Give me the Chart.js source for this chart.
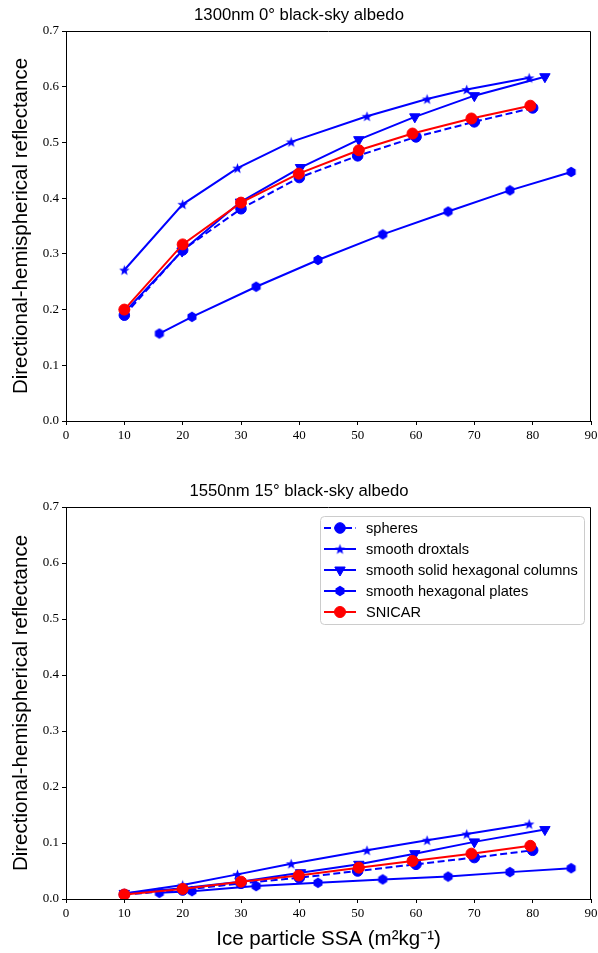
<!DOCTYPE html>
<html>
<head>
<meta charset="utf-8">
<script src="https://cdn.jsdelivr.net/npm/chart.js@4.4.0/dist/chart.umd.min.js"></script>
<style>
body { margin: 0; background: #fff; }
#wrap { position: relative; width: 598px; height: 953px; }
.box { position: absolute; left: 0; width: 598px; }
</style>
</head>
<body>
<div id="wrap">
  <div class="box" style="top:0;height:476px"><canvas id="chart-top"></canvas></div>
  <div class="box" style="top:476px;height:477px"><canvas id="chart-bottom"></canvas></div>
</div>
<script>
// series names (legend order)
var seriesNames = ['spheres', 'smooth droxtals', 'smooth solid hexagonal columns', 'smooth hexagonal plates', 'SNICAR'];

// x values (ice particle SSA) for each series
var spheresX  = [10, 20, 30, 40, 50, 60, 70, 80];
var droxtalsX = [10, 20, 29.4, 38.6, 51.6, 61.9, 68.7, 79.4];
var columnsX  = [10, 19.9, 29.9, 40.2, 50.2, 59.8, 70, 82.1];
var platesX   = [16, 21.6, 32.6, 43.2, 54.3, 65.5, 76.1, 86.6];
var snicarX   = [10, 20, 30, 39.9, 50.2, 59.4, 69.5, 79.6];

// 1300nm 0deg black-sky albedo
var spheres1300  = [0.190, 0.307, 0.381, 0.437, 0.476, 0.510, 0.537, 0.562];
var droxtals1300 = [0.271, 0.389, 0.454, 0.501, 0.547, 0.578, 0.595, 0.616];
var columns1300  = [0.195, 0.305, 0.393, 0.455, 0.505, 0.546, 0.584, 0.618];
var plates1300   = [0.157, 0.187, 0.241, 0.289, 0.335, 0.376, 0.414, 0.447];
var snicar1300   = [0.200, 0.317, 0.392, 0.444, 0.486, 0.516, 0.543, 0.566];

// 1550nm 15deg black-sky albedo
var spheres1550  = [0.008, 0.016, 0.028, 0.038, 0.050, 0.062, 0.074, 0.087];
var droxtals1550 = [0.010, 0.025, 0.044, 0.063, 0.087, 0.105, 0.116, 0.134];
var columns1550  = [0.010, 0.019, 0.031, 0.047, 0.062, 0.081, 0.102, 0.124];
var plates1550   = [0.011, 0.014, 0.023, 0.029, 0.035, 0.040, 0.048, 0.055];
var snicar1550   = [0.008, 0.018, 0.031, 0.042, 0.056, 0.068, 0.081, 0.095];

var titleTop = '1300nm 0\u00b0 black-sky albedo';
var titleBottom = '1550nm 15\u00b0 black-sky albedo';
var yLabel = 'Directional-hemispherical reflectance';
var xLabel = 'Ice particle SSA (m\u00b2kg\u207b\u00b9)';

var BLUE = '#0000ff';
var RED = '#ff0000';

function makeMarker(draw, size) {
    var c = document.createElement('canvas');
    c.width = size; c.height = size;
    var g = c.getContext('2d');
    g.fillStyle = BLUE;
    draw(g, size / 2);
    return c;
}
var starImg = makeMarker(function (g, m) {
    g.beginPath();
    for (var i = 0; i < 10; i++) {
        var r = i % 2 == 0 ? 5.5 : 2.3;
        var a = -Math.PI / 2 + i * Math.PI / 5;
        g.lineTo(m + r * Math.cos(a), m + 0.5 + r * Math.sin(a));
    }
    g.closePath();
    g.fill();
}, 13);
var hexImg = makeMarker(function (g, m) {
    g.beginPath();
    for (var i = 0; i < 6; i++) {
        var a = -Math.PI / 2 + i * Math.PI / 3;
        g.lineTo(m + 5.2 * Math.cos(a), m + 5.2 * Math.sin(a));
    }
    g.closePath();
    g.fill();
}, 12);

function toPoints(xs, ys) {
    return xs.map(function (x, i) { return { x: x, y: ys[i] }; });
}

function buildDatasets(sp, dr, co, pl, sn) {
    return [
        { label: seriesNames[0], data: toPoints(spheresX, sp), borderColor: BLUE, backgroundColor: BLUE,
          borderDash: [7, 3.5], pointStyle: 'circle', pointRadius: 5.3, order: 5 },
        { label: seriesNames[1], data: toPoints(droxtalsX, dr), borderColor: BLUE, backgroundColor: BLUE,
          pointStyle: starImg, order: 4 },
        { label: seriesNames[2], data: toPoints(columnsX, co), borderColor: BLUE, backgroundColor: BLUE,
          pointStyle: 'triangle', pointRotation: 180, pointRadius: 6, order: 3 },
        { label: seriesNames[3], data: toPoints(platesX, pl), borderColor: BLUE, backgroundColor: BLUE,
          pointStyle: hexImg, order: 2 },
        { label: seriesNames[4], data: toPoints(snicarX, sn), borderColor: RED, backgroundColor: RED,
          pointStyle: 'circle', pointRadius: 5.5, order: 1 }
    ];
}

// box around the plot area (top and right sides)
var framePlugin = {
    id: 'frame',
    afterDraw: function (chart) {
        var a = chart.chartArea, ctx = chart.ctx;
        ctx.save();
        ctx.strokeStyle = '#000';
        ctx.lineWidth = 1;
        ctx.beginPath();
        ctx.moveTo(Math.round(a.left) + 0.5, Math.round(a.top) + 0.5);
        ctx.lineTo(Math.round(a.right) - 0.5, Math.round(a.top) + 0.5);
        ctx.lineTo(Math.round(a.right) - 0.5, Math.round(a.bottom));
        ctx.stroke();
        ctx.restore();
    }
};

// legend box drawn inside the plot area
var boxLegend = {
    id: 'boxLegend',
    afterDraw: function (chart, args, opts) {
        if (!opts.show) return;
        var ctx = chart.ctx;
        ctx.save();
        var bx = 320.5, by = 40.5, bw = 264, bh = 108, r = 4;
        ctx.beginPath();
        ctx.moveTo(bx + r, by);
        ctx.arcTo(bx + bw, by, bx + bw, by + bh, r);
        ctx.arcTo(bx + bw, by + bh, bx, by + bh, r);
        ctx.arcTo(bx, by + bh, bx, by, r);
        ctx.arcTo(bx, by, bx + bw, by, r);
        ctx.closePath();
        ctx.fillStyle = 'rgba(255,255,255,0.8)';
        ctx.fill();
        ctx.strokeStyle = '#cccccc';
        ctx.lineWidth = 1;
        ctx.stroke();

        var dss = chart.data.datasets;
        for (var i = 0; i < dss.length; i++) {
            var ds = dss[i];
            var y = 52 + i * 21;
            ctx.strokeStyle = ds.borderColor;
            ctx.fillStyle = ds.backgroundColor;
            ctx.lineWidth = 2;
            ctx.setLineDash(ds.borderDash || []);
            ctx.beginPath();
            ctx.moveTo(324, y);
            ctx.lineTo(356, y);
            ctx.stroke();
            ctx.setLineDash([]);
            ctx.lineWidth = 1;
            Chart.helpers.drawPoint(ctx, {
                pointStyle: ds.pointStyle,
                radius: ds.pointRadius || 5,
                rotation: ds.pointRotation || 0,
                borderWidth: 1
            }, 340, y);
            ctx.fillStyle = '#000';
            ctx.font = '14.6px "Liberation Sans", Arial, sans-serif';
            ctx.textBaseline = 'middle';
            ctx.fillText(ds.label, 366, y + 1);
        }
        ctx.restore();
    }
};

function makeOptions(title, showXTitle, xHeight, showLegend) {
    return {
        responsive: true,
        maintainAspectRatio: false,
        animation: false,
        layout: { padding: { left: 0, right: 0, top: 0, bottom: 0 } },
        elements: {
            line: { borderWidth: 2, tension: 0, fill: false },
            point: { borderWidth: 1, hoverRadius: 5 }
        },
        plugins: {
            legend: { display: false },
            tooltip: { enabled: false },
            title: {
                display: true,
                text: title,
                color: '#000',
                font: { family: '"Liberation Sans", Arial, sans-serif', size: 16.7, weight: 'normal', lineHeight: 1.2 },
                padding: { top: 5, bottom: 6 }
            },
            boxLegend: { show: showLegend }
        },
        scales: {
            x: {
                type: 'linear',
                min: 0, max: 90,
                afterFit: function (s) {
                    s.height = xHeight;
                    s.paddingLeft = 0;
                    s.paddingRight = 7;
                },
                ticks: {
                    stepSize: 10, color: '#000', padding: 3, maxRotation: 0,
                    font: { family: '"Liberation Serif", "DejaVu Serif", serif', size: 13 }
                },
                grid: { drawOnChartArea: false, drawTicks: true, tickLength: 4, color: '#000' },
                border: { display: true, color: '#000', width: 1 },
                title: {
                    display: showXTitle,
                    text: xLabel,
                    color: '#000',
                    font: { family: '"Liberation Sans", Arial, sans-serif', size: 20.5, lineHeight: 1.2 },
                    padding: { top: 0, bottom: 1 }
                }
            },
            y: {
                type: 'linear',
                min: 0, max: 0.7,
                afterFit: function (s) { s.width = 66; },
                ticks: {
                    stepSize: 0.1, color: '#000', padding: 3,
                    font: { family: '"Liberation Serif", "DejaVu Serif", serif', size: 13 },
                    callback: function (v) { return Number(v).toFixed(1); }
                },
                grid: { drawOnChartArea: false, drawTicks: true, tickLength: 4, color: '#000' },
                border: { display: true, color: '#000', width: 1 },
                title: {
                    display: true,
                    text: yLabel,
                    color: '#000',
                    font: { family: '"Liberation Sans", Arial, sans-serif', size: 20.5, lineHeight: 1.2 },
                    padding: { top: 9, bottom: 0 }
                }
            }
        }
    };
}

var topChart = new Chart(document.getElementById('chart-top').getContext('2d'), {
    type: 'line',
    data: { datasets: buildDatasets(spheres1300, droxtals1300, columns1300, plates1300, snicar1300) },
    options: makeOptions(titleTop, false, 55, false),
    plugins: [framePlugin, boxLegend]
});

var bottomChart = new Chart(document.getElementById('chart-bottom').getContext('2d'), {
    type: 'line',
    data: { datasets: buildDatasets(spheres1550, droxtals1550, columns1550, plates1550, snicar1550) },
    options: makeOptions(titleBottom, true, 54, true),
    plugins: [framePlugin, boxLegend]
});
</script>
</body>
</html>
